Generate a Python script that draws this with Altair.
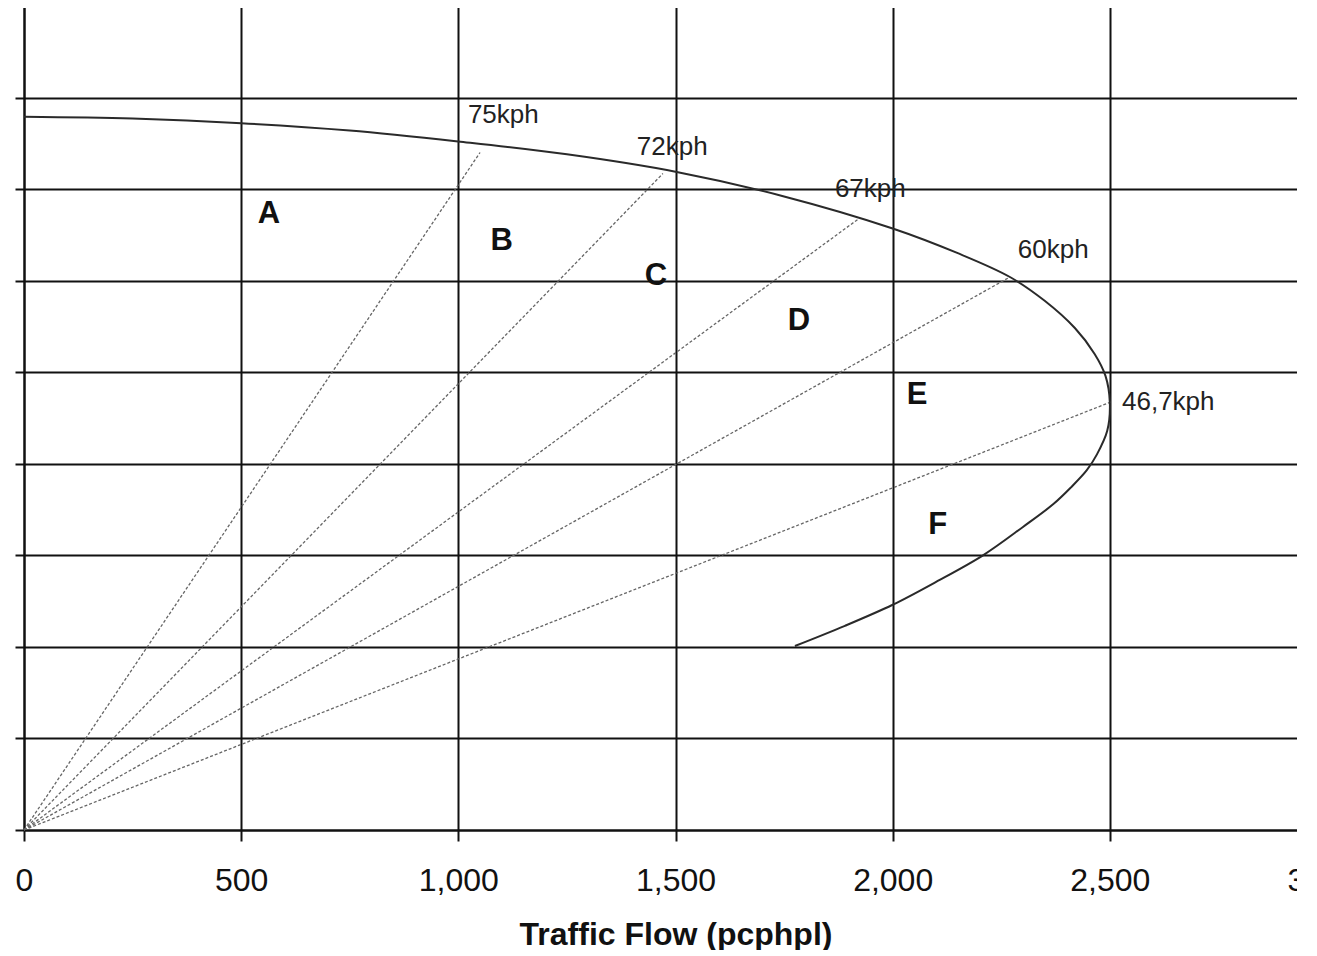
import altair as alt
import pandas as pd

# Speed-flow curve (flow pcphpl, speed kph), ordered along the path
curve_flow = [0, 250, 500, 750, 1000, 1250, 1500, 1750, 2000, 2150, 2270,
              2350, 2420, 2465, 2490, 2500, 2494, 2470, 2447, 2410, 2370, 2300,
              2208, 2100, 2000, 1890, 1775]
curve_speed = [77.9, 77.7, 77.2, 76.4, 75.2, 73.8, 71.9, 69.2, 65.7, 63.0, 60.4,
               57.8, 54.8, 52.0, 49.6, 46.7, 43.6, 41.0, 39.3, 37.4, 35.6, 33.1,
               30.0, 27.1, 24.6, 22.3, 20.1]

# Density rays from origin to these end points
ray_flow = [1050, 1471, 1920, 2270, 2505]
ray_speed = [74.0, 71.7, 66.7, 60.4, 46.8]

# Speed labels
speed_text = ["75kph", "72kph", "67kph", "60kph", "46,7kph"]
speed_flow = [1022, 1411, 1867, 2288, 2528]
speed_pos = [78.1, 74.6, 70.0, 63.4, 46.7]

# LOS letters
los_text = ["A", "B", "C", "D", "E", "F"]
los_flow = [564, 1100, 1455, 1784, 2056, 2104]
los_speed = [67.3, 64.3, 60.5, 55.6, 47.5, 33.3]

x_ticks = [0, 500, 1000, 1500, 2000, 2500, 3000]
y_ticks = [0, 10, 20, 30, 40, 50, 60, 70, 80, 90]

curve_df = pd.DataFrame({"flow": curve_flow, "speed": curve_speed,
                         "ord": list(range(len(curve_flow)))})
rows = []
for i, (f, s) in enumerate(zip(ray_flow, ray_speed)):
    rows.append({"ray": i, "flow": 0, "speed": 0, "ord": 0})
    rows.append({"ray": i, "flow": f, "speed": s, "ord": 1})
ray_df = pd.DataFrame(rows)
speed_df = pd.DataFrame({"flow": speed_flow, "speed": speed_pos, "t": speed_text})
los_df = pd.DataFrame({"flow": los_flow, "speed": los_speed, "t": los_text})

GRID = "#111111"
xscale = alt.Scale(domain=[0, 3000], nice=False)
yscale = alt.Scale(domain=[0, 90], nice=False)

xaxis = alt.Axis(values=x_ticks, format=",d", title="Traffic Flow (pcphpl)",
                 grid=True, gridColor=GRID, gridWidth=2, gridOpacity=1,
                 domainColor=GRID, domainWidth=2, tickColor=GRID, tickWidth=2,
                 tickSize=11, labelFont="Liberation Sans", labelFontSize=32,
                 labelColor="#111", labelPadding=24, labelFlush=False,
                 labelOverlap=False, labelBound=False,
                 titleFont="Liberation Sans", titleFontSize=32, titleFontWeight="bold",
                 titleColor="#111", titleBaseline="alphabetic", titleY=114)
yaxis = alt.Axis(values=y_ticks, title=None, labels=False,
                 grid=True, gridColor=GRID, gridWidth=2, gridOpacity=1,
                 domainColor=GRID, domainWidth=2, tickColor=GRID, tickWidth=2,
                 tickSize=9)

base_x = alt.X("flow:Q", scale=xscale, axis=xaxis)
base_y = alt.Y("speed:Q", scale=yscale, axis=yaxis)

rays = alt.Chart(ray_df).mark_line(color="#666", strokeWidth=1.3,
                                   strokeDash=[3, 2]).encode(
    x=base_x, y=base_y, detail="ray:N", order="ord:Q")

curve = alt.Chart(curve_df).mark_line(color="#2a2a2a", strokeWidth=2,
                                      interpolate="catmull-rom").encode(
    x=alt.X("flow:Q", scale=xscale), y=alt.Y("speed:Q", scale=yscale), order="ord:Q")

speed_lbl = alt.Chart(speed_df).mark_text(align="left", baseline="middle",
                                          font="Liberation Sans", fontSize=26,
                                          color="#222").encode(
    x=alt.X("flow:Q", scale=xscale), y=alt.Y("speed:Q", scale=yscale), text="t:N")

los_lbl = alt.Chart(los_df).mark_text(align="center", baseline="middle",
                                      font="Liberation Sans", fontSize=31,
                                      fontWeight="bold", color="#111").encode(
    x=alt.X("flow:Q", scale=xscale), y=alt.Y("speed:Q", scale=yscale), text="t:N")

chart = alt.layer(rays, curve, speed_lbl, los_lbl).properties(
    width=1303, height=824,
    autosize=alt.AutoSizeParams(type="none"),
    padding={"left": 16, "top": -2, "right": -30, "bottom": 120},
).configure_view(strokeWidth=0).configure(background="white")

chart.save("out.html", embed_options={"renderer": "svg", "actions": False})
